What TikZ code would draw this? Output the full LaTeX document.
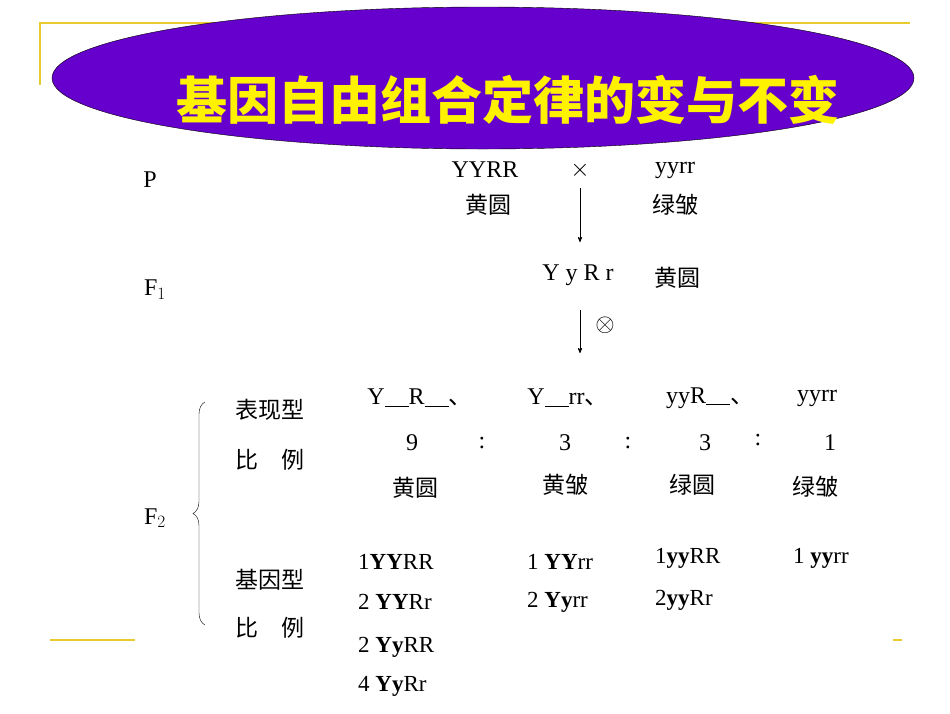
\documentclass[tikz,border=0pt]{standalone}
\usepackage{fontspec}
\setmainfont{Liberation Serif}
\newfontfamily\cjk{Noto Sans CJK SC}
\usetikzlibrary{arrows,shapes,positioning,decorations.pathreplacing}
\definecolor{titlebg}{HTML}{6600CC}

\begin{document}
\begin{tikzpicture}[x=1pt,y=-1pt,
  txt/.style={inner sep=0pt,font=\fontsize{24}{26}\selectfont},
  han/.style={inner sep=0pt,font=\cjk\fontsize{23}{26}\selectfont},
  geno/.style={inner sep=0pt,anchor=west,font=\fontsize{23}{26}\selectfont}]
\useasboundingbox (0,0) rectangle (950,713);
\draw[color=yellow!60!brown,line width=1.2pt] (40,85) -- (40,23) -- (910,23);
\draw[color=yellow!60!brown,line width=1.2pt] (50,640) -- (135,640);
\draw[color=yellow!60!brown,line width=1.2pt] (893,640) -- (902,640);
\node[ellipse,draw=black,fill=titlebg,minimum width=862,minimum height=142] (title) at (483,78) {};
\node[inner sep=0pt,text=yellow,font=\cjk\bfseries\fontsize{51}{54}\selectfont] at (508,100) {基因自由组合定律的变与不变};

% generations
\node[txt] (p) at (150,180) {P};
\node[txt] (f1) at (155,290) {F$_1$};
\node[txt] (f2) at (155,518) {F$_2$};
\node[txt] (pa) at (485,170) {YYRR};
\node[txt] (x) at (580,170) {$\times$};
\node[txt] (pb) at (675,170) {yyrr};
\node[han] (pah) at (488,205) {黄圆};
\node[han] (pbh) at (675,205) {绿皱};
\node[txt] (yy) at (578,275) {Y y R r};
\node[han] (yyh) at (677,278) {黄圆};
\node[txt] (self) at (605,325) {$\otimes$};
\coordinate (a1) at (580,188);
\coordinate (a2) at (580,242);
\coordinate (a3) at (580,310);
\coordinate (a4) at (580,353);
\draw[->,>=stealth',thick] (a1) -- (a2);
\draw[->,>=stealth',thick] (a3) -- (a4);

% F2
\coordinate (b1) at (205,402);
\coordinate (b2) at (205,625);
\draw[decorate,decoration={brace,amplitude=12pt}] (b2) -- (b1);
\node[han] (bx) at (270,410) {表现型};
\node[han] (bl1) at (270,460) {比\quad 例};
\node[han] (jy) at (270,580) {基因型};
\node[han] (bl2) at (270,628) {比\quad 例};

\node[txt] (ph1) at (420,398) {Y\underline{\ \ \ \ }R\underline{\ \ \ \ }{\cjk 、}};
\node[txt] (ph2) at (568,398) {Y\underline{\ \ \ \ }rr{\cjk 、}};
\node[txt] (ph3) at (710,398) {yyR\underline{\ \ \ \ }{\cjk 、}};
\node[txt] (ph4) at (817,398) {yyrr};
\node[txt] (r1) at (412,443) {9};
\node[txt] (c1) at (482,443) {:};
\node[txt] (r2) at (565,443) {3};
\node[txt] (c2) at (628,443) {:};
\node[txt] (r3) at (705,443) {3};
\node[txt] (c3) at (758,440) {:};
\node[txt] (r4) at (830,443) {1};
\node[han] (h1) at (415,488) {黄圆};
\node[han] (h2) at (565,485) {黄皱};
\node[han] (h3) at (692,485) {绿圆};
\node[han] (h4) at (815,487) {绿皱};

\node[geno] (g1) at (358,562) {1\textbf{YY}RR};
\node[geno] (g2) at (358,602) {2 \textbf{YY}Rr};
\node[geno] (g3) at (358,647) {2 \textbf{Yy}RR};
\node[geno] (g4) at (358,686) {4 \textbf{Yy}Rr};
\node[geno] (g5) at (527,562) {1 \textbf{YY}rr};
\node[geno] (g6) at (527,602) {2 \textbf{Yy}rr};
\node[geno] (g7) at (655,558) {1\textbf{yy}RR};
\node[geno] (g8) at (655,600) {2\textbf{yy}Rr};
\node[geno] (g9) at (793,558) {1 \textbf{yy}rr};
\end{tikzpicture}
\end{document}
